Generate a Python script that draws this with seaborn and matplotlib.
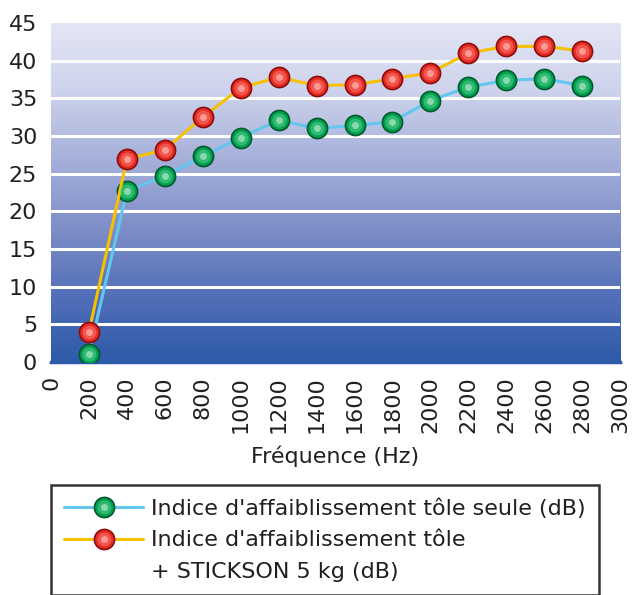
import numpy as np
import matplotlib
matplotlib.use("Agg")
import matplotlib.pyplot as plt
import seaborn as sns
from matplotlib.colors import LinearSegmentedColormap
from matplotlib.lines import Line2D

# données
frequences = [200, 400, 600, 800, 1000, 1200, 1400, 1600, 1800, 2000, 2200, 2400, 2600, 2800]
tole_seule = [1.1, 22.7, 24.7, 27.3, 29.8, 32.1, 31.0, 31.4, 31.9, 34.7, 36.5, 37.4, 37.6, 36.7]
tole_stickson = [4.0, 26.9, 28.2, 32.5, 36.4, 37.8, 36.7, 36.8, 37.6, 38.4, 41.0, 41.9, 41.9, 41.3]
x_ticks = list(range(0, 3001, 200))
y_ticks = list(range(0, 46, 5))
label_seule = "Indice d'affaiblissement tôle seule (dB)"
label_stickson = "Indice d'affaiblissement tôle"
label_stickson_2 = "+ STICKSON 5 kg (dB)"

sns.set_style("white")
plt.rcParams['font.family'] = ['DejaVu Sans']
txt = '#231f20'

fig = plt.figure(figsize=(6.33, 5.95), dpi=100)
ax = fig.add_axes([0.0806, 0.3916, 0.899, 0.5697])

# fond en dégradé
cmap = LinearSegmentedColormap.from_list(
    "fond", ["#2d5aa8", "#5470b8", "#7f8fc8", "#a6b0da", "#cdd3ec", "#e3e6f4"])
grad = np.linspace(0, 1, 256).reshape(-1, 1)
ax.imshow(grad, extent=[0, 1, 0, 1], transform=ax.transAxes, aspect='auto',
          cmap=cmap, origin='lower', zorder=0)

# courbes
sns.lineplot(x=frequences, y=tole_seule, ax=ax, color='#62c6ee', linewidth=2.2,
             marker='o', markersize=14.5, markerfacecolor='#00a050',
             markeredgecolor='#005a2a', markeredgewidth=1.2, zorder=3)
sns.lineplot(x=frequences, y=tole_stickson, ax=ax, color='#f6c100', linewidth=2.2,
             marker='o', markersize=14.5, markerfacecolor='#e52a1f',
             markeredgecolor='#8a0d0d', markeredgewidth=1.2, zorder=3)
l1, l2 = ax.get_lines()[:2]

# reflets des billes
m1 = ax.plot(frequences, tole_seule, 'o', ms=10, color='#3cc07a', alpha=0.8, mew=0, zorder=4)[0]
h1 = ax.plot(frequences, tole_seule, 'o', ms=5, color='#b0e8c8', alpha=0.7, mew=0, zorder=5)[0]
m2 = ax.plot(frequences, tole_stickson, 'o', ms=10, color='#f5625a', alpha=0.8, mew=0, zorder=4)[0]
h2 = ax.plot(frequences, tole_stickson, 'o', ms=5, color='#ffb8b0', alpha=0.7, mew=0, zorder=5)[0]

ax.set_xlim(0, 3000)
ax.set_ylim(0, 45)
ax.set_xticks(x_ticks)
ax.set_xticklabels([str(v) for v in x_ticks], rotation=90, fontsize=16)
ax.set_yticks(y_ticks)
ax.set_yticklabels([str(v) for v in y_ticks], fontsize=16)
ax.grid(axis='y', color='white', linewidth=2.2)
ax.grid(axis='x', visible=False)
ax.set_axisbelow(True)
for t in (ax.yaxis.get_major_ticks()[0], ax.yaxis.get_major_ticks()[-1]):
    t.gridline.set_visible(False)

for s in ['top', 'right', 'left']:
    ax.spines[s].set_visible(False)
ax.spines['bottom'].set_color('#2d5aa8')
ax.spines['bottom'].set_linewidth(2.5)
ax.tick_params(axis='x', direction='out', length=6, width=2, color='#2d5aa8',
               pad=4, labelcolor=txt)
ax.tick_params(axis='y', length=0, pad=10, labelcolor=txt)
xt = ax.xaxis.get_major_ticks()
xt[0].tick1line.set_visible(False)
xt[-1].tick1line.set_visible(False)

ax.set_xlabel("Fréquence (Hz)", fontsize=16, color=txt, labelpad=9)

vide = Line2D([], [], alpha=0)
leg = fig.legend([(l1, m1, h1), (l2, m2, h2), vide],
                 [label_seule, label_stickson, label_stickson_2],
                 loc='upper left', bbox_to_anchor=(0.0806, 0.1849),
                 borderaxespad=0,
                 fontsize=16, frameon=True, fancybox=False, handlelength=3.55,
                 borderpad=0.6, labelspacing=0.52, handletextpad=0.36)
leg.get_frame().set_edgecolor('black')
leg.get_frame().set_linewidth(1.8)
for t in leg.get_texts():
    t.set_color(txt)

fig.savefig("out.png", dpi=100)
